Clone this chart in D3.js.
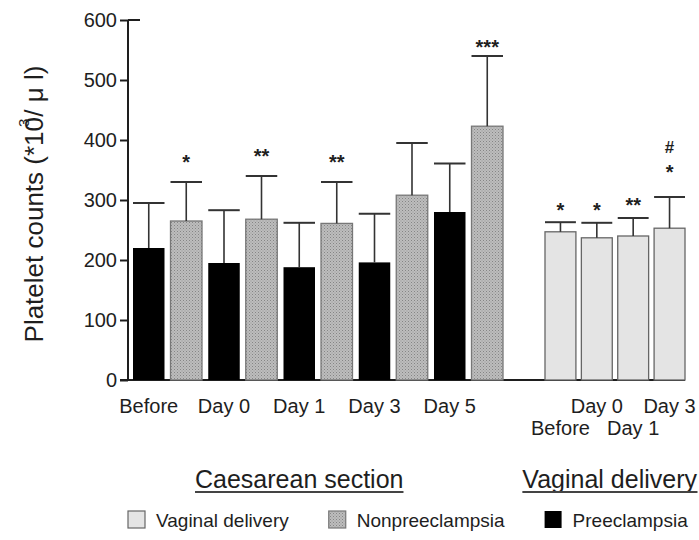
<!DOCTYPE html>
<html><head><meta charset="utf-8">
<script src="https://cdnjs.cloudflare.com/ajax/libs/d3/7.8.5/d3.min.js"></script>
<style>body{margin:0;background:#fff}svg{display:block}</style>
</head><body><svg id="c" width="699" height="540"></svg>
<script>
// ---- data ----
const csDays = ["Before", "Day 0", "Day 1", "Day 3", "Day 5"];
const groups = ["Preeclampsia", "Nonpreeclampsia"];
const preMean = [220, 195, 188, 196, 280];
const preSD   = [75, 88, 74, 81, 81];
const nonMean = [265, 268, 261, 308, 423];
const nonSD   = [65, 72, 69, 87, 117];
const nonSig  = ["*", "**", "**", "", "***"];
const vdDays  = ["Before", "Day 0", "Day 1", "Day 3"];
const vdMean  = [247, 237, 240, 253];
const vdSD    = [16, 25, 30, 52];
const vdSig   = [["*"], ["*"], ["**"], ["*", "#"]];
const yTicks  = [0, 100, 200, 300, 400, 500, 600];
const legendItems = ["Vaginal delivery", "Nonpreeclampsia", "Preeclampsia"];

const svg = d3.select("#c");
const FONT = "'Liberation Sans', Arial, sans-serif";
const INK = "#1e1e1e";

const defs = svg.append("defs");
const pat = defs.append("pattern").attr("id", "dots").attr("patternUnits", "userSpaceOnUse")
  .attr("width", 3).attr("height", 3);
pat.append("rect").attr("width", 3).attr("height", 3).attr("fill", "#bdbdbd");
pat.append("rect").attr("x", 0).attr("y", 0).attr("width", 1).attr("height", 1).attr("fill", "#858585");
pat.append("rect").attr("x", 1.5).attr("y", 1.5).attr("width", 1).attr("height", 1).attr("fill", "#949494");

const fills = {
  "Preeclampsia": "#000",
  "Nonpreeclampsia": "url(#dots)",
  "Vaginal delivery": "#e4e4e4"
};
const strokes = {
  "Preeclampsia": "#000",
  "Nonpreeclampsia": "#777",
  "Vaginal delivery": "#666"
};

// ---- scales ----
const y = d3.scaleLinear().domain([0, 600]).range([380, 20]);
const x0 = d3.scaleBand().domain(csDays).range([133, 503]).paddingInner(0.083).paddingOuter(0);
const x1 = d3.scaleBand().domain(groups).range([0, x0.bandwidth()]).paddingInner(0.16).paddingOuter(0);
const xv = d3.scaleBand().domain(vdDays).range([545, 685]).paddingInner(0.15).paddingOuter(0);

// ---- axes ----
const axisX = 128;
const yAxis = svg.append("g").attr("transform", `translate(${axisX},0)`)
  .call(d3.axisLeft(y).tickValues(yTicks).tickSize(8).tickPadding(3));
yAxis.select(".domain").attr("stroke", INK).attr("stroke-width", 2).attr("d", `M0,${y(0)}V${y(600)}`);
yAxis.selectAll(".tick line").attr("stroke", INK).attr("stroke-width", 2);
yAxis.selectAll(".tick text").attr("font-family", FONT).attr("font-size", 20).attr("fill", INK);
// extra right-side stub on the top tick
svg.append("line").attr("x1", axisX).attr("x2", axisX + 12).attr("y1", y(600)).attr("y2", y(600))
  .attr("stroke", INK).attr("stroke-width", 2);

// baseline
svg.append("line").attr("x1", axisX - 8).attr("x2", xv.range()[1]).attr("y1", y(0)).attr("y2", y(0))
  .attr("stroke", INK).attr("stroke-width", 2.2);

// ---- bars helper ----
function drawBar(g, x, w, mean, sd, key) {
  g.append("rect").attr("x", x).attr("y", y(mean)).attr("width", w).attr("height", y(0) - y(mean))
    .attr("fill", fills[key]).attr("stroke", strokes[key]).attr("stroke-width", key === "Preeclampsia" ? 0 : 1.3);
  const cx = x + w / 2;
  g.append("line").attr("x1", cx).attr("x2", cx).attr("y1", y(mean)).attr("y2", y(mean + sd))
    .attr("stroke", "#333").attr("stroke-width", 1.6);
  g.append("line").attr("x1", x).attr("x2", x + w).attr("y1", y(mean + sd)).attr("y2", y(mean + sd))
    .attr("stroke", "#333").attr("stroke-width", 2);
}
function drawSig(g, cx, top, marks, offset) {
  marks.forEach((m, i) => {
    if (!m) return;
    const cy = top - offset - i * 20;
    g.append("text").attr("x", cx).attr("y", cy)
      .attr("dy", m === "#" ? "0.36em" : "0.62em")
      .attr("text-anchor", "middle").attr("font-family", FONT).attr("font-weight", "bold")
      .attr("font-size", m === "#" ? 17 : 20).attr("fill", INK).text(m);
  });
}

const gBars = svg.append("g");
csDays.forEach((d, i) => {
  const bx = x0(d);
  drawBar(gBars, bx + x1("Preeclampsia"), x1.bandwidth(), preMean[i], preSD[i], "Preeclampsia");
  drawBar(gBars, bx + x1("Nonpreeclampsia"), x1.bandwidth(), nonMean[i], nonSD[i], "Nonpreeclampsia");
  drawSig(gBars, bx + x1("Nonpreeclampsia") + x1.bandwidth() / 2, y(nonMean[i] + nonSD[i]),
    [nonSig[i]], nonSig[i] === "***" ? 14 : 25);
});
vdDays.forEach((d, i) => {
  drawBar(gBars, xv(d), xv.bandwidth(), vdMean[i], vdSD[i], "Vaginal delivery");
  drawSig(gBars, xv(d) + xv.bandwidth() / 2, y(vdMean[i] + vdSD[i]), vdSig[i], i === 3 ? 30 : 18);
});

// ---- category labels ----
const gl = svg.append("g").attr("font-family", FONT).attr("font-size", 20).attr("fill", INK)
  .attr("text-anchor", "middle");
csDays.forEach(d => {
  gl.append("text").attr("x", x0(d) + x1("Preeclampsia") + x1.bandwidth() / 2).attr("y", 413).text(d);
});
vdDays.forEach((d, i) => {
  gl.append("text").attr("x", xv(d) + xv.bandwidth() / 2).attr("y", i % 2 === 0 ? 435 : 413).text(d);
});

// ---- section titles ----
function sectionTitle(text, x, anchor) {
  const t = svg.append("text").attr("x", x).attr("y", 488).attr("text-anchor", anchor)
    .attr("font-family", FONT).attr("font-size", 25).attr("fill", INK).text(text);
  const bb = t.node().getBBox();
  svg.append("line").attr("x1", bb.x).attr("x2", bb.x + bb.width).attr("y1", 492).attr("y2", 492)
    .attr("stroke", "#444").attr("stroke-width", 2);
}
const csCenter = (x0(csDays[0]) + x1("Preeclampsia") + x1.bandwidth() / 2 +
  x0(csDays[4]) + x1("Preeclampsia") + x1.bandwidth() / 2) / 2;
sectionTitle("Caesarean section", csCenter, "middle");
sectionTitle("Vaginal delivery", xv.range()[1] + 12, "end");

// ---- y title ----
const yt = svg.append("text").attr("transform", "translate(43,204) rotate(-90)")
  .attr("text-anchor", "middle").attr("font-family", FONT).attr("font-size", 26).attr("fill", INK);
yt.append("tspan").text("Platelet counts (*10");
yt.append("tspan").attr("font-size", 15).attr("dx", -10).attr("dy", -14).text("3");
yt.append("tspan").attr("dx", 2).attr("dy", 14).text("/ μ l)");

// ---- legend ----
const lg = svg.append("g").attr("font-family", FONT).attr("font-size", 19).attr("fill", INK);
let lx = 128;
legendItems.forEach(k => {
  lg.append("rect").attr("x", lx).attr("y", 511).attr("width", 17).attr("height", 17)
    .attr("fill", fills[k]).attr("stroke", strokes[k]).attr("stroke-width", k === "Preeclampsia" ? 0 : 1.2);
  const t = lg.append("text").attr("x", lx + 28).attr("y", 527).text(k);
  lx = lx + 28 + t.node().getComputedTextLength() + 40;
});
</script></body></html>
